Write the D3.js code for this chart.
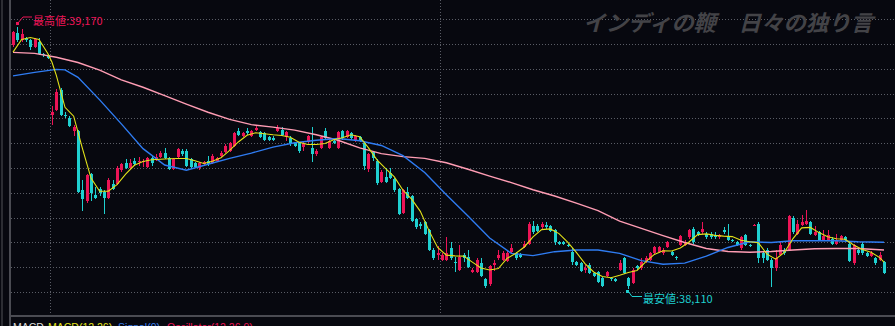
<!DOCTYPE html>
<html>
<head>
<meta charset="utf-8">
<script src="https://cdn.jsdelivr.net/npm/d3@7"></script>
<style>
  html, body { margin: 0; padding: 0; background: #07080f; overflow: hidden; }
  svg { display: block; }
</style>
</head>
<body>
<svg id="chart" width="895" height="326"></svg>
<script>
// ---- price bars (5-minute candles) ----
const opens = [
  39095,39145,39115,39125,39115,39090,39110,39060,39055,38815,
  38835,38915,38815,38800,38750,38750,38510,38465,38575,38490,
  38515,38505,38480,38535,38535,38590,38620,38600,38630,38625,
  38625,38605,38640,38635,38645,38660,38640,38595,38645,38670,
  38670,38635,38620,38600,38615,38630,38620,38630,38650,38665,
  38670,38690,38750,38730,38750,38730,38755,38745,38740,38725,
  38720,38750,38755,38725,38720,38700,38700,38685,38705,38680,
  38655,38680,38750,38680,38710,38680,38750,38725,38740,38710,
  38725,38700,38595,38665,38630,38545,38565,38580,38555,38515,
  38420,38505,38485,38395,38375,38380,38350,38270,38250,38230,
  38230,38275,38220,38190,38250,38240,38180,38180,38215,38150,
  38130,38210,38235,38230,38225,38260,38255,38250,38280,38295,
  38365,38365,38360,38370,38365,38350,38300,38300,38290,38260,
  38220,38215,38190,38210,38175,38180,38155,38165,38155,38150,
  38190,38235,38155,38135,38205,38195,38220,38230,38255,38260,
  38255,38280,38260,38240,38290,38290,38320,38355,38340,38340,
  38335,38335,38330,38320,38350,38320,38310,38300,38275,38330,
  38290,38365,38375,38255,38270,38230,38195,38250,38270,38270,
  38400,38335,38370,38375,38380,38330,38340,38310,38310,38315,
  38295,38310,38320,38295,38215,38270,38295,38255,38245,38235,
  38230,38220
];
const highs = [
  39155,39170,39160,39130,39120,39125,39125,39065,39060,38850,
  38920,38925,38825,38810,38775,38755,38550,38575,38580,38525,
  38525,38510,38560,38550,38610,38620,38635,38635,38640,38645,
  38635,38645,38650,38655,38670,38680,38645,38640,38680,38675,
  38675,38640,38625,38625,38630,38650,38655,38645,38670,38695,
  38705,38745,38760,38745,38760,38755,38770,38750,38745,38730,
  38730,38775,38765,38750,38730,38705,38705,38705,38735,38765,
  38675,38730,38760,38715,38715,38750,38755,38755,38745,38735,
  38730,38705,38660,38670,38635,38590,38600,38600,38560,38520,
  38515,38525,38490,38400,38380,38385,38355,38275,38285,38255,
  38320,38300,38240,38290,38255,38270,38195,38235,38235,38155,
  38210,38230,38270,38265,38265,38295,38260,38255,38305,38380,
  38385,38375,38380,38380,38370,38355,38305,38305,38295,38275,
  38225,38220,38210,38215,38180,38185,38160,38185,38160,38155,
  38230,38240,38160,38195,38210,38235,38245,38260,38285,38285,
  38275,38305,38265,38245,38330,38310,38355,38360,38345,38380,
  38340,38340,38340,38335,38360,38375,38315,38305,38325,38335,
  38295,38375,38380,38260,38275,38235,38270,38305,38275,38410,
  38405,38390,38410,38430,38385,38365,38345,38350,38350,38320,
  38335,38330,38325,38300,38295,38275,38300,38260,38265,38240,
  38260,38225
];
const lows = [
  39090,39110,39110,39110,39075,39085,39055,39050,39040,38775,
  38830,38810,38800,38765,38730,38500,38425,38460,38465,38475,
  38485,38415,38475,38510,38530,38585,38595,38595,38610,38610,
  38605,38600,38610,38630,38640,38635,38590,38590,38640,38650,
  38605,38600,38600,38590,38610,38610,38615,38625,38645,38660,
  38665,38685,38730,38725,38735,38725,38750,38720,38710,38710,
  38710,38745,38730,38710,38690,38685,38660,38670,38700,38625,
  38650,38675,38715,38675,38695,38675,38715,38720,38715,38705,
  38705,38590,38585,38630,38530,38540,38540,38555,38505,38410,
  38415,38475,38380,38355,38355,38330,38265,38230,38230,38225,
  38225,38230,38180,38185,38220,38195,38175,38175,38160,38115,
  38125,38185,38230,38225,38220,38255,38230,38235,38275,38290,
  38335,38340,38355,38355,38340,38290,38290,38290,38280,38210,
  38205,38180,38175,38170,38160,38135,38120,38160,38145,38140,
  38185,38170,38110,38130,38190,38190,38215,38225,38250,38255,
  38250,38275,38245,38230,38285,38285,38315,38295,38325,38335,
  38315,38315,38315,38315,38335,38305,38300,38285,38270,38285,
  38280,38365,38215,38215,38225,38120,38185,38245,38250,38265,
  38335,38330,38365,38370,38330,38325,38305,38305,38305,38290,
  38290,38305,38305,38220,38210,38250,38250,38240,38240,38210,
  38225,38170
];
const closes = [
  39150,39115,39140,39115,39090,39120,39060,39055,39045,38825,
  38905,38815,38810,38770,38765,38505,38475,38570,38500,38480,
  38500,38480,38550,38515,38600,38615,38600,38620,38615,38630,
  38630,38640,38620,38645,38660,38640,38595,38635,38675,38655,
  38610,38605,38605,38620,38625,38615,38650,38640,38660,38690,
  38700,38740,38735,38740,38740,38750,38760,38725,38715,38715,
  38715,38760,38735,38745,38695,38690,38670,38700,38730,38655,
  38670,38725,38720,38710,38700,38745,38720,38750,38720,38730,
  38710,38610,38655,38640,38540,38585,38545,38560,38510,38415,
  38510,38480,38385,38360,38365,38335,38270,38235,38255,38250,
  38255,38235,38215,38240,38235,38200,38190,38230,38165,38125,
  38205,38215,38250,38255,38255,38275,38235,38240,38295,38375,
  38340,38345,38375,38360,38345,38300,38295,38295,38285,38220,
  38210,38185,38195,38175,38165,38140,38125,38180,38150,38145,
  38215,38175,38125,38190,38195,38220,38235,38255,38280,38280,
  38270,38300,38250,38235,38325,38300,38350,38300,38330,38355,
  38320,38320,38320,38330,38340,38310,38305,38290,38320,38290,
  38285,38370,38235,38235,38230,38195,38235,38290,38255,38405,
  38340,38375,38380,38385,38335,38340,38310,38325,38330,38295,
  38310,38325,38310,38225,38290,38255,38255,38245,38255,38215,
  38250,38175
];

// ---- moving averages: [bar index, price] ----
const maShort = [
  [0,39068],[2,39119],[4,39127],[6,39119],[8,39063],[9,39027],[10,38974],[12,38845],
  [14,38809],[16,38680],[18,38559],[20,38506],[22,38506],[24,38533],[26,38575],[28,38611],
  [30,38626],[32,38633],[34,38635],[36,38637],[38,38638],[40,38638],[42,38629],[44,38618],
  [46,38627],[48,38641],[50,38671],[52,38705],[54,38732],[56,38742],[58,38738],[60,38734],
  [62,38731],[64,38724],[66,38704],[68,38695],[70,38695],[72,38699],[74,38714],[76,38722],
  [78,38734],[80,38726],[82,38682],[84,38633],[86,38597],[88,38564],[90,38510],[92,38474],
  [94,38425],[96,38347],[98,38279],[100,38248],[102,38245],[104,38244],[106,38220],[108,38196],
  [110,38188],[112,38194],[114,38235],[116,38255],[118,38281],[120,38322],[122,38351],[124,38354],
  [126,38335],[128,38301],[130,38259],[132,38214],[134,38180],[136,38162],[138,38157],[140,38167],
  [142,38178],[144,38186],[146,38221],[148,38251],[150,38266],[152,38265],[154,38277],[156,38301],
  [158,38331],[160,38334],[162,38328],[164,38325],[166,38323],[168,38308],[170,38302],[172,38298],
  [174,38252],[176,38232],[178,38259],[180,38315],[182,38358],[184,38360],[186,38339],[188,38322],
  [190,38314],[192,38312],[194,38289],[196,38271],[198,38260],[200,38238],[201,38220]
];
const maMid = [
  [0,38972],[5,38986],[10,38998],[12,38996],[15,38966],[20,38875],[25,38778],[30,38678],
  [35,38612],[40,38591],[45,38615],[50,38639],[55,38660],[60,38684],[65,38702],[70,38712],
  [75,38719],[80,38710],[85,38691],[90,38650],[95,38582],[100,38492],[105,38406],[110,38317],
  [115,38255],[120,38246],[125,38262],[130,38269],[135,38269],[140,38255],[145,38226],[150,38211],
  [155,38216],[160,38244],[165,38279],[170,38302],[175,38299],[180,38306],[185,38306],[190,38306],
  [195,38302],[201,38300]
];
const maLong = [
  [0,39067],[5,39063],[10,39047],[15,39026],[20,38995],[25,38956],[30,38926],[35,38892],
  [40,38858],[45,38825],[50,38796],[55,38775],[60,38765],[65,38753],[70,38734],[75,38712],
  [80,38681],[85,38658],[90,38646],[95,38639],[100,38621],[105,38595],[110,38567],[115,38541],
  [120,38512],[125,38487],[130,38458],[135,38428],[140,38385],[145,38356],[150,38327],[155,38299],
  [160,38275],[165,38263],[170,38260],[175,38263],[180,38269],[185,38274],[190,38275],[195,38275],
  [201,38269]
];

// ---- grid / session marks / captions ----
const priceTicks = d3.range(38100, 39201, 100);
const sessionStarts = [9, 99];
const watermark = "インディの鞭\u3000日々の独り言";
const highCaption = "最高値:";
const lowCaption = "最安値:";
const subPaneLegend = [
  { text: "MACD", color: "#dcdcdc", x: 13 },
  { text: "MACD(12,26)", color: "#e4e41c", x: 48 },
  { text: "Signal(9)", color: "#3a80f2", x: 118 },
  { text: "Oscillator(12,26,9)", color: "#ec1456", x: 167 }
];

const W = 895, H = 326;
const UP = "#ec1456", DOWN = "#1fd0d0";
const GRID = "#5a5d66";

const svg = d3.select("#chart");
const x = d3.scaleLinear().domain([0, opens.length - 1]).range([13, 884]);
const y = d3.scaleLinear().domain([38100, 39200]).range([291.8, 19.4]);
const step = x(1) - x(0);
const fmt = d3.format(",");

svg.append("rect").attr("width", W).attr("height", H).attr("fill", "#07080f");

// horizontal price grid
svg.append("g").selectAll("line").data(priceTicks).join("line")
  .attr("x1", 11).attr("x2", W)
  .attr("y1", d => Math.round(y(d)) + 0.5).attr("y2", d => Math.round(y(d)) + 0.5)
  .attr("stroke", GRID).attr("stroke-width", 1).attr("stroke-dasharray", "1,2");

// session separators
svg.append("g").selectAll("line").data(sessionStarts).join("line")
  .attr("x1", d => Math.round(x(d) - step / 2) + 0.5).attr("x2", d => Math.round(x(d) - step / 2) + 0.5)
  .attr("y1", 0).attr("y2", 315)
  .attr("stroke", GRID).attr("stroke-width", 1).attr("stroke-dasharray", "1,2");

// frame
svg.append("line").attr("x1", 2).attr("x2", 2).attr("y1", 0).attr("y2", H)
  .attr("stroke", "#2c2d33").attr("stroke-width", 2);
svg.append("line").attr("x1", 10).attr("x2", 10).attr("y1", 0).attr("y2", H)
  .attr("stroke", "#4a4b52").attr("stroke-width", 2);
svg.append("line").attr("x1", 10).attr("x2", W).attr("y1", 316).attr("y2", 316)
  .attr("stroke", "#4a4b52").attr("stroke-width", 2);

// watermark
svg.append("text")
  .attr("x", 583).attr("y", 31)
  .attr("font-family", "'Noto Sans CJK JP', sans-serif")
  .attr("font-size", 22).attr("font-style", "italic").attr("font-weight", 700)
  .attr("fill", "#434347")
  .attr("textLength", 290).attr("lengthAdjust", "spacingAndGlyphs")
  .text(watermark);

// candles
const bars = d3.range(opens.length).map(i => ({
  i, o: opens[i], h: highs[i], l: lows[i], c: closes[i]
}));
const cg = svg.append("g").attr("shape-rendering", "crispEdges");
const candle = cg.selectAll("g").data(bars).join("g");
candle.append("line")
  .attr("x1", d => Math.round(x(d.i)) + 0.5).attr("x2", d => Math.round(x(d.i)) + 0.5)
  .attr("y1", d => y(d.h)).attr("y2", d => y(d.l))
  .attr("stroke", d => d.c >= d.o ? UP : DOWN).attr("stroke-width", 1);
candle.append("rect")
  .attr("x", d => Math.round(x(d.i)) - 1)
  .attr("width", 3)
  .attr("y", d => y(Math.max(d.o, d.c)))
  .attr("height", d => Math.max(1, Math.abs(y(d.o) - y(d.c))))
  .attr("fill", d => d.c >= d.o ? UP : DOWN);

// moving averages
const line = d3.line().x(d => x(d[0])).y(d => y(d[1]));
svg.append("path").datum(maLong).attr("d", line)
  .attr("fill", "none").attr("stroke", "#ff9db4").attr("stroke-width", 1.4);
svg.append("path").datum(maMid).attr("d", line)
  .attr("fill", "none").attr("stroke", "#2f7cf2").attr("stroke-width", 1.4);
svg.append("path").datum(maShort).attr("d", line)
  .attr("fill", "none").attr("stroke", "#e2e21a").attr("stroke-width", 1.1);

// high / low callouts
const hiVal = d3.max(highs), hiIdx = highs.indexOf(hiVal);
const loVal = d3.min(lows), loIdx = lows.indexOf(loVal);
const capFont = "'Noto Sans CJK JP', sans-serif";

{
  const px = Math.round(x(hiIdx)), py = Math.round(y(hiVal)) - 4;
  const g = svg.append("g");
  g.append("rect").attr("x", px - 1).attr("y", py - 1).attr("width", 3).attr("height", 3).attr("fill", UP);
  g.append("polyline")
    .attr("points", `${px + 1},${py} ${px + 6},${py - 6} ${px + 15},${py - 6}`)
    .attr("fill", "none").attr("stroke", UP).attr("stroke-width", 1);
  g.append("text").attr("x", px + 16).attr("y", py + 2)
    .attr("font-family", capFont).attr("font-size", 11).attr("fill", UP)
    .text(highCaption + fmt(hiVal));
}
{
  const px = Math.round(x(loIdx)) - 1, py = Math.round(y(loVal)) + 2;
  const g = svg.append("g");
  g.append("rect").attr("x", px - 1).attr("y", py - 1).attr("width", 3).attr("height", 3).attr("fill", DOWN);
  g.append("polyline")
    .attr("points", `${px + 1},${py} ${px + 5},${py + 5.5} ${px + 15},${py + 5.5}`)
    .attr("fill", "none").attr("stroke", DOWN).attr("stroke-width", 1);
  g.append("text").attr("x", px + 16).attr("y", py + 12)
    .attr("font-family", capFont).attr("font-size", 11).attr("fill", DOWN)
    .text(lowCaption + fmt(loVal));
}

// sub-pane legend (MACD pane header, clipped by the window bottom)
svg.append("g").selectAll("text").data(subPaneLegend).join("text")
  .attr("x", d => d.x).attr("y", 331)
  .attr("font-family", "'Liberation Sans', Arial, sans-serif")
  .attr("font-size", 10.5).attr("fill", d => d.color)
  .text(d => d.text);
</script>
</body>
</html>
